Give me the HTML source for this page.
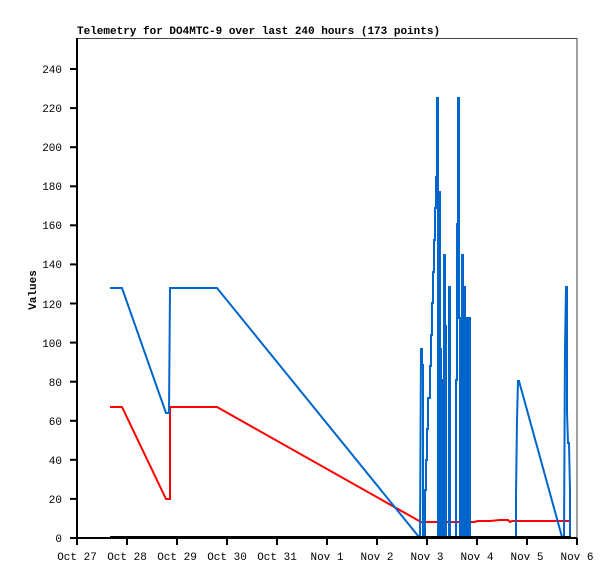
<!DOCTYPE html>
<html><head><meta charset="utf-8"><style>
html,body{margin:0;padding:0;background:#fff;}
svg{display:block;}
text{font-family:"Liberation Mono","DejaVu Sans Mono",monospace;font-size:11px;fill:#000;}
</style></head><body>
<svg width="615" height="579" viewBox="0 0 615 579" xmlns="http://www.w3.org/2000/svg">
<rect x="0" y="0" width="615" height="579" fill="#fff"/>
<text x="77" y="34" font-weight="bold" style="font-size:11px">Telemetry for DO4MTC-9 over last 240 hours (173 points)</text>
<rect x="77.5" y="38.5" width="499.5" height="499.5" fill="none" stroke="#444" stroke-width="1"/>
<line x1="77" y1="38" x2="77" y2="539" stroke="#000" stroke-width="2"/>
<line x1="77" y1="538" x2="577" y2="538" stroke="#000" stroke-width="2"/>
<g stroke="#000" stroke-width="2">
<line x1="70" y1="538" x2="77" y2="538"/><line x1="70" y1="498.9" x2="77" y2="498.9"/><line x1="70" y1="459.8" x2="77" y2="459.8"/><line x1="70" y1="420.8" x2="77" y2="420.8"/><line x1="70" y1="381.7" x2="77" y2="381.7"/><line x1="70" y1="342.6" x2="77" y2="342.6"/><line x1="70" y1="303.5" x2="77" y2="303.5"/><line x1="70" y1="264.4" x2="77" y2="264.4"/><line x1="70" y1="225.3" x2="77" y2="225.3"/><line x1="70" y1="186.3" x2="77" y2="186.3"/><line x1="70" y1="147.2" x2="77" y2="147.2"/><line x1="70" y1="108.1" x2="77" y2="108.1"/><line x1="70" y1="69" x2="77" y2="69"/>
<line x1="77" y1="538" x2="77" y2="545"/><line x1="127" y1="538" x2="127" y2="545"/><line x1="177" y1="538" x2="177" y2="545"/><line x1="227" y1="538" x2="227" y2="545"/><line x1="277" y1="538" x2="277" y2="545"/><line x1="327" y1="538" x2="327" y2="545"/><line x1="377" y1="538" x2="377" y2="545"/><line x1="427" y1="538" x2="427" y2="545"/><line x1="477" y1="538" x2="477" y2="545"/><line x1="527" y1="538" x2="527" y2="545"/><line x1="577" y1="538" x2="577" y2="545"/>
</g>
<g text-anchor="end">
<text x="62" y="542">0</text><text x="62" y="503">20</text><text x="62" y="464">40</text><text x="62" y="425">60</text><text x="62" y="386">80</text><text x="62" y="347">100</text><text x="62" y="308">120</text><text x="62" y="268">140</text><text x="62" y="229">160</text><text x="62" y="190">180</text><text x="62" y="151">200</text><text x="62" y="112">220</text><text x="62" y="73">240</text>
</g>
<g text-anchor="middle">
<text x="77" y="560">Oct 27</text><text x="127" y="560">Oct 28</text><text x="177" y="560">Oct 29</text><text x="227" y="560">Oct 30</text><text x="277" y="560">Oct 31</text><text x="327" y="560">Nov 1</text><text x="377" y="560">Nov 2</text><text x="427" y="560">Nov 3</text><text x="477" y="560">Nov 4</text><text x="527" y="560">Nov 5</text><text x="577" y="560">Nov 6</text>
</g>
<text x="36" y="290" font-weight="bold" text-anchor="middle" transform="rotate(-90 36 290)">Values</text>
<polyline fill="none" stroke="#ff0000" stroke-width="2" points="110,407 122,407 166,499 170,499 170,407 217,407 421,522 424,522 474,522 478,521 490,521 500,520 508,520 510,522 512,521 516,521 570,521"/>
<polyline fill="none" stroke="#0066cc" stroke-width="2" stroke-linejoin="miter" points="110,288 122,288 166,413 169,413 170,288 217,288 419,537 420,537 421,349 422,349 422,365 423,365 423,537 424,537 425,537 425,490 426,490 426,460 427,460 427,429 428,429 428,398 429,398 430,398 430,366 431,366 431,335 432,335 432,303 433,303 433,272 434,272 434,240 435,240 435,208 436,208 436,177 437,177 437,146 437,98 438,98 438,537 439,537 439,192 440,192 440,349 441,349 441,537 442,537 442,380 443,380 443,537 444,537 444,255 445,255 445,537 445,326 446,326 446,537 449,537 449,287 450,287 450,537 456,537 456,380 457,380 457,224 458,224 458,98 459,98 459,318 460,318 460,537 461,537 461,318 462,318 462,537 462,255 463,255 463,537 464,537 464,287 465,287 465,537 466,537 466,350 467,350 467,318 468,318 468,537 469,537 469,318 470,318 470,537 516,537 516,495 517,420 518,381 519,381 562,537 564,537 565,349 566,287 567,287 567,412 568,443 569,443 570,490 570,537"/>
<line x1="110" y1="537" x2="571" y2="537" stroke="#000" stroke-width="2"/>
</svg>
</body></html>
